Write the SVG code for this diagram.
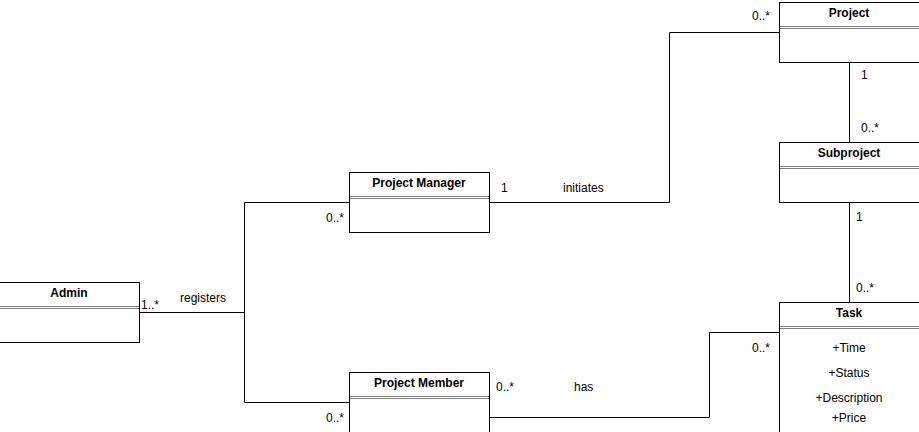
<svg xmlns="http://www.w3.org/2000/svg" width="919" height="432" viewBox="0 0 919 432">
<style>
text{font-family:"Liberation Sans",Arial,sans-serif;font-size:12px;fill:#000}
.t{font-weight:bold;text-anchor:middle}
.a{text-anchor:middle}
.box{fill:#fff;stroke:#000;stroke-width:1}
.sep{stroke:#808080;stroke-width:1;fill:none}
.c{fill:none;stroke:#000;stroke-width:1}
</style>
<rect width="919" height="432" fill="#fff"/>
<g id="connectors">
<polyline class="c" points="139.5,312.5 244.5,312.5"/>
<polyline class="c" points="349.5,202.5 244.5,202.5 244.5,402.5 349.5,402.5"/>
<polyline class="c" points="489.5,202.5 669.5,202.5 669.5,32.5 779.5,32.5"/>
<polyline class="c" points="849.5,62.5 849.5,142.5"/>
<polyline class="c" points="849.5,202.5 849.5,302.5"/>
<polyline class="c" points="489.5,417.5 709.5,417.5 709.5,332.5 779.5,332.5"/>
<text x="141" y="309">1..*</text>
<text x="180" y="302">registers</text>
<text x="326" y="222">0..*</text>
<text x="326" y="422">0..*</text>
<text x="501" y="192">1</text>
<text x="563" y="192">initiates</text>
<text x="496" y="391">0..*</text>
<text x="574" y="391">has</text>
<text x="752" y="20">0..*</text>
<text x="861" y="79">1</text>
<text x="861" y="132">0..*</text>
<text x="856" y="221">1</text>
<text x="856" y="292">0..*</text>
<text x="752" y="352">0..*</text>
</g>
<g id="admin">
<rect class="box" x="-1.5" y="282.5" width="141" height="60"/>
<line class="sep" x1="-1" y1="306.5" x2="139" y2="306.5"/>
<line class="sep" x1="-1" y1="308.5" x2="139" y2="308.5"/>
<text class="t" x="69" y="297">Admin</text>
</g>
<g id="project-manager">
<rect class="box" x="349.5" y="172.5" width="140" height="60"/>
<line class="sep" x1="350" y1="196.5" x2="489" y2="196.5"/>
<line class="sep" x1="350" y1="198.5" x2="489" y2="198.5"/>
<text class="t" x="419" y="187">Project Manager</text>
</g>
<g id="project-member">
<rect class="box" x="349.5" y="372.5" width="140" height="70"/>
<line class="sep" x1="350" y1="396.5" x2="489" y2="396.5"/>
<line class="sep" x1="350" y1="398.5" x2="489" y2="398.5"/>
<text class="t" x="419" y="387">Project Member</text>
</g>
<g id="project">
<rect class="box" x="779.5" y="2.5" width="150" height="60"/>
<line class="sep" x1="780" y1="26.5" x2="919" y2="26.5"/>
<line class="sep" x1="780" y1="28.5" x2="919" y2="28.5"/>
<text class="t" x="849" y="17">Project</text>
</g>
<g id="subproject">
<rect class="box" x="779.5" y="142.5" width="150" height="60"/>
<line class="sep" x1="780" y1="166.5" x2="919" y2="166.5"/>
<line class="sep" x1="780" y1="168.5" x2="919" y2="168.5"/>
<text class="t" x="849" y="157">Subproject</text>
</g>
<g id="task">
<rect class="box" x="779.5" y="302.5" width="150" height="140"/>
<line class="sep" x1="780" y1="326.5" x2="919" y2="326.5"/>
<line class="sep" x1="780" y1="328.5" x2="919" y2="328.5"/>
<text class="t" x="849" y="317">Task</text>
<text class="a" x="849" y="352">+Time</text>
<text class="a" x="849" y="377">+Status</text>
<text class="a" x="849" y="402">+Description</text>
<text class="a" x="849" y="422">+Price</text>
</g>
</svg>
